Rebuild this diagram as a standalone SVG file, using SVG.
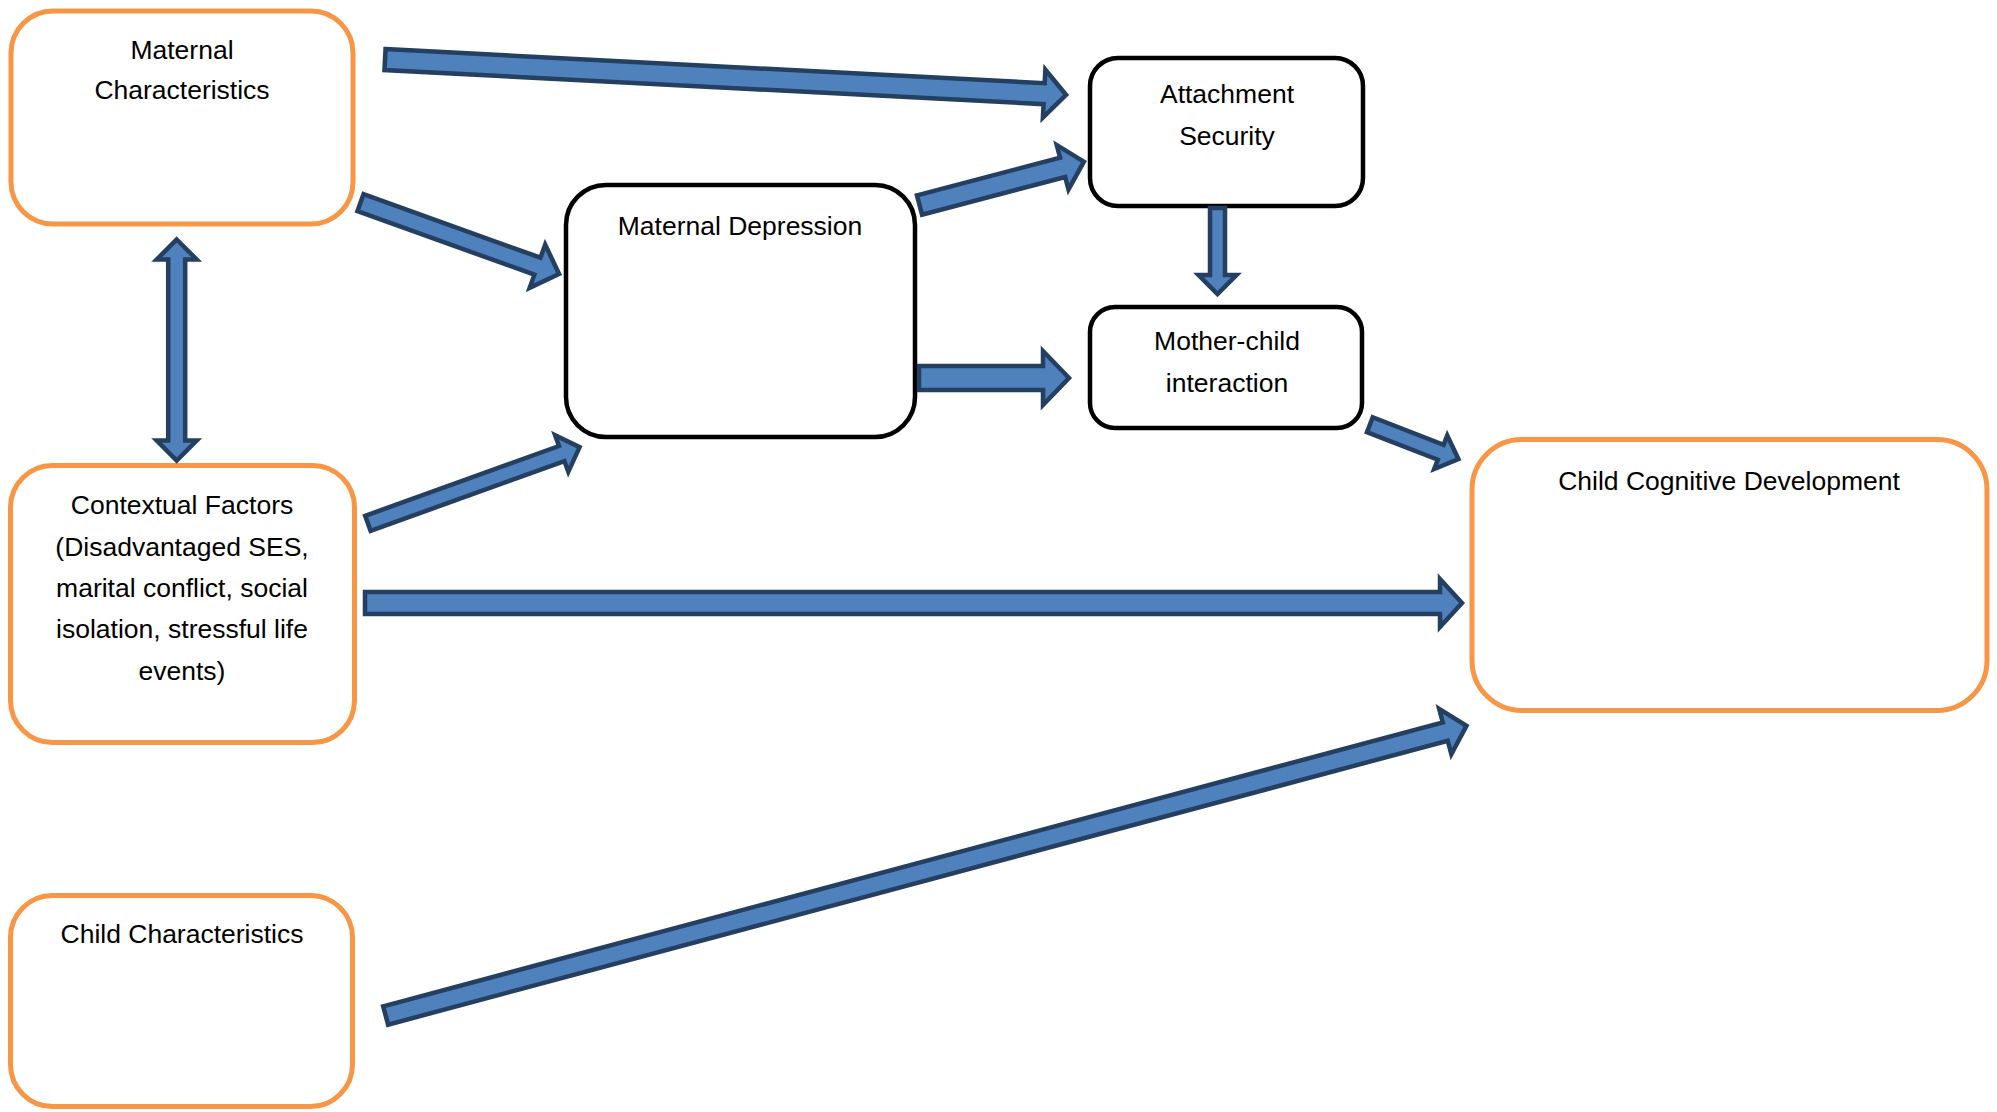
<svg xmlns="http://www.w3.org/2000/svg" width="1997" height="1112" viewBox="0 0 1997 1112">
<style>
.o{fill:#fff;stroke:#F79646;stroke-width:5}
.k{fill:#fff;stroke:#000;stroke-width:4.5}
.a{fill:#4F81BD;stroke:#243F60;stroke-width:4.5;stroke-linejoin:miter}
text{font-family:"Liberation Sans",Arial,sans-serif;font-size:26.5px;fill:#000;text-anchor:middle}
</style>
<rect width="1997" height="1112" fill="#fff"/>
<g id="maternal-characteristics">
<rect class="o" x="11" y="11" width="342" height="213" rx="42"/>
<text x="182" y="59">Maternal</text>
<text x="182" y="99">Characteristics</text>
</g>
<g id="contextual-factors">
<rect class="o" x="10.5" y="465.5" width="344" height="277" rx="42"/>
<text x="182" y="514">Contextual Factors</text>
<text x="182" y="556">(Disadvantaged SES,</text>
<text x="182" y="597">marital conflict, social</text>
<text x="182" y="638">isolation, stressful life</text>
<text x="182" y="680">events)</text>
</g>
<g id="child-characteristics">
<rect class="o" x="10.5" y="895.5" width="342" height="211" rx="42"/>
<text x="182" y="943">Child Characteristics</text>
</g>
<g id="maternal-depression">
<rect class="k" x="566" y="185" width="349" height="252" rx="40"/>
<text x="740" y="235">Maternal Depression</text>
</g>
<g id="attachment-security">
<rect class="k" x="1090" y="58" width="273" height="148" rx="28"/>
<text x="1227" y="103">Attachment</text>
<text x="1227" y="145">Security</text>
</g>
<g id="mother-child-interaction">
<rect class="k" x="1090" y="307" width="272" height="121" rx="25"/>
<text x="1227" y="350">Mother-child</text>
<text x="1227" y="392">interaction</text>
</g>
<g id="child-cognitive-development">
<rect class="o" x="1472" y="439.5" width="515" height="271" rx="50"/>
<text x="1729" y="490">Child Cognitive Development</text>
</g>
<g id="connectors">
<polygon class="a" transform="translate(383,59.5) rotate(2.96)" points="2,-10.5 662,-10.5 662,-24 684,0 662,24 662,10.5 2,10.5"/>
<polygon class="a" transform="translate(358.6,202) rotate(19.75)" points="2,-9 190,-9 190,-23 213,0 190,23 190,9 2,9"/>
<polygon class="a" transform="translate(919.5,205) rotate(-14.76)" points="0,-10 148,-10 148,-23 170,0 148,23 148,10 0,10"/>
<polygon class="a" points="919,366 1043,366 1043,351 1069,378 1043,405 1043,390 919,390"/>
<polygon class="a" points="1210,208 1225,208 1225,275 1236.5,275 1217.5,294 1198.5,275 1210,275"/>
<polygon class="a" transform="translate(1368,424) rotate(21.2)" points="2,-8 78,-8 78,-18 97,0 78,18 78,8 2,8"/>
<polygon class="a" transform="translate(366,524) rotate(-19.8)" points="2,-8 208,-8 208,-19.5 227,0 208,19.5 208,8 2,8"/>
<polygon class="a" points="365,592 1440,592 1440,579 1462,603 1440,627 1440,614 365,614"/>
<polygon class="a" transform="translate(383.7,1016) rotate(-15)" points="2,-9.5 1099,-9.5 1099,-23.5 1121,0 1099,23.5 1099,9.5 2,9.5"/>
<polygon class="a" points="176.7,239.5 196.7,259.5 185.2,259.5 185.2,440.5 196.7,440.5 176.7,460.5 156.7,440.5 168.2,440.5 168.2,259.5 156.7,259.5"/>
</g>
</svg>
